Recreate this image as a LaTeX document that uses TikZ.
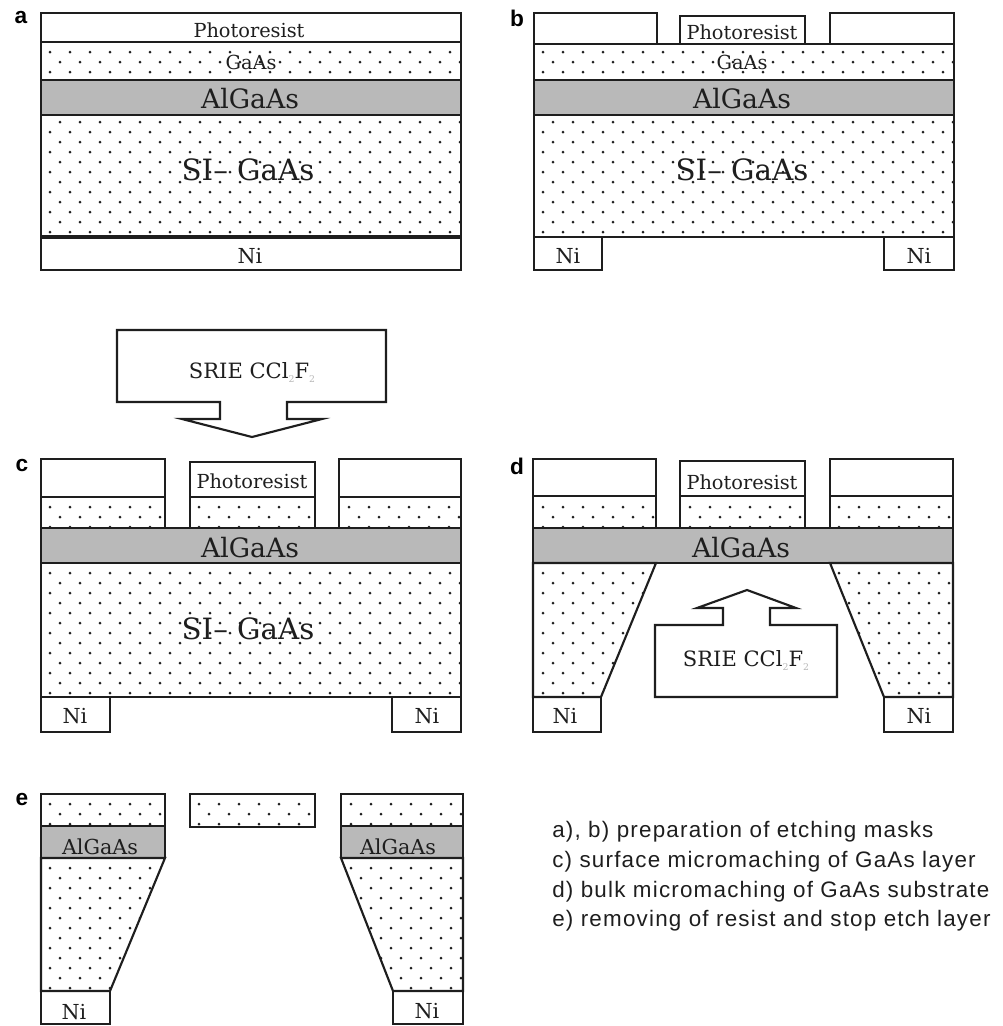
\documentclass[tikz,border=0pt]{standalone}
\usepackage{fontspec}
\setmainfont{DejaVu Serif}
\newfontfamily\legendfont[LetterSpace=5.4]{Liberation Sans}
\newfontfamily\tagfont{Liberation Sans}
\definecolor{algaas}{HTML}{B9B9B9}
\definecolor{edge}{HTML}{1E1E1E}
\tikzset{
  layer/.style={draw=edge, line width=1.6pt, line join=miter},
  stopetch/.style={layer, fill=algaas},
  etchgas/.style={layer, fill=white},
  txtsmall/.style={inner sep=0pt, text=edge, font=\fontsize{14.5}{15}\selectfont},
  txtmid/.style={inner sep=0pt, text=edge, font=\fontsize{15.5}{16}\selectfont},
  txtbig/.style={inner sep=0pt, text=edge, font=\fontsize{20}{20}\selectfont},
  txthuge/.style={inner sep=0pt, text=edge, font=\fontsize{22}{22}\selectfont},
  txtgas/.style={inner sep=0pt, text=edge, font=\fontsize{15.8}{16}\selectfont},
  panel/.style={inner sep=0pt, font=\tagfont\bfseries\fontsize{17}{17}\selectfont},
  legend/.style={inner sep=0pt, anchor=west, text=edge, font=\legendfont\fontsize{16.8}{17}\selectfont},
}
% dotted semiconductor: x origin, y origin, last row, last column, outline
\newcommand{\dotlayer}[5]{
  \begin{scope}
    \clip #5;
    \foreach \r in {0,...,#3} {
      \foreach \c in {0,...,#4} {
        \fill[edge] ({#1+20*\c+10*mod(\r,2)},{#2+10*\r}) circle (1.5);
      }
    }
  \end{scope}
  \draw[layer] #5;
}
\newcommand{\gassub}{\raisebox{-3pt}{\textcolor{gray!55}{\scriptsize 2}}}
\begin{document}
\begin{tikzpicture}[x=0.75pt, y=-0.75pt]
  \useasboundingbox (0,0) rectangle (1003,1026);

  % panel a
  \node[panel] (a_tag) at (21,18) {a};
  \draw[layer] (41,13) rectangle (461,42);
  \dotlayer{50}{52}{2}{20}{(41,42) rectangle (461,80)}
  \draw[stopetch] (41,80) rectangle (461,115);
  \dotlayer{50}{112}{12}{20}{(41,115) rectangle (461,237)}
  \draw[layer] (41,237) rectangle (461,270);
  \draw[edge, line width=2.4pt] (41,237) -- (461,237);
  \node[txtsmall] (a_resist) at (249,30) {Photoresist};
  \node[txtsmall] (a_gaas) at (251,62) {GaAs};
  \node[txtbig] (a_algaas) at (250,99) {AlGaAs};
  \node[txthuge] (a_si) at (248,170) {SI– GaAs};
  \node[txtmid] (a_ni) at (250,256) {Ni};

  % panel b
  \node[panel] (b_tag) at (517,18) {b};
  \draw[layer] (534,13) rectangle (657,44);
  \draw[layer] (680,16) rectangle (805,44);
  \draw[layer] (830,13) rectangle (954,44);
  \dotlayer{543}{52}{2}{20}{(534,44) rectangle (954,80)}
  \draw[stopetch] (534,80) rectangle (954,115);
  \dotlayer{543}{112}{12}{20}{(534,115) rectangle (954,237)}
  \draw[layer] (534,237) rectangle (602,270);
  \draw[layer] (884,237) rectangle (954,270);
  \node[txtsmall] (b_resist) at (742,32) {Photoresist};
  \node[txtsmall] (b_gaas) at (742,62) {GaAs};
  \node[txtbig] (b_algaas) at (742,99) {AlGaAs};
  \node[txthuge] (b_si) at (742,170) {SI– GaAs};
  \node[txtmid] (b_ni1) at (568,256) {Ni};
  \node[txtmid] (b_ni2) at (919,256) {Ni};

  % etch arrow going down
  \draw[etchgas] (117,330) -- (386,330) -- (386,402) -- (287,402) -- (287,419) -- (322,419)
    -- (252,437) -- (182,419) -- (220,419) -- (220,402) -- (117,402) -- cycle;
  \node[txtgas] (c_gas) at (252,372) {SRIE CCl\gassub F\gassub};

  % panel c
  \node[panel] (c_tag) at (22,466) {c};
  \draw[layer] (41,459) rectangle (165,497);
  \draw[layer] (190,462) rectangle (315,497);
  \draw[layer] (339,459) rectangle (461,497);
  \dotlayer{50}{507}{2}{6}{(41,497) rectangle (165,528)}
  \dotlayer{199}{507}{2}{6}{(190,497) rectangle (315,528)}
  \dotlayer{349}{507}{2}{6}{(339,497) rectangle (461,528)}
  \draw[stopetch] (41,528) rectangle (461,563);
  \dotlayer{50}{573}{12}{20}{(41,563) rectangle (461,697)}
  \draw[layer] (41,697) rectangle (110,732);
  \draw[layer] (392,697) rectangle (461,732);
  \node[txtsmall] (c_resist) at (252,481) {Photoresist};
  \node[txtbig] (c_algaas) at (250,548) {AlGaAs};
  \node[txthuge] (c_si) at (248,629) {SI– GaAs};
  \node[txtmid] (c_ni1) at (75,716) {Ni};
  \node[txtmid] (c_ni2) at (427,716) {Ni};

  % panel d
  \node[panel] (d_tag) at (517,466) {d};
  \draw[layer] (533,459) rectangle (656,496);
  \draw[layer] (680,461) rectangle (805,496);
  \draw[layer] (830,459) rectangle (953,496);
  \dotlayer{543}{507}{2}{6}{(533,496) rectangle (656,528)}
  \dotlayer{690}{507}{2}{6}{(680,496) rectangle (805,528)}
  \dotlayer{839}{507}{2}{6}{(830,496) rectangle (953,528)}
  \draw[stopetch] (533,528) rectangle (953,563);
  \dotlayer{543}{573}{12}{6}{(533,563) -- (656,563) -- (601,697) -- (533,697) -- cycle}
  \dotlayer{839}{573}{12}{6}{(830,563) -- (953,563) -- (953,697) -- (884,697) -- cycle}
  \draw[layer] (533,697) rectangle (601,732);
  \draw[layer] (884,697) rectangle (953,732);
  \draw[etchgas] (655,625) -- (723,625) -- (723,608) -- (697,608) -- (747,590) -- (796,608)
    -- (770,608) -- (770,625) -- (837,625) -- (837,697) -- (655,697) -- cycle;
  \node[txtsmall] (d_resist) at (742,482) {Photoresist};
  \node[txtbig] (d_algaas) at (741,548) {AlGaAs};
  \node[txtmid] (d_ni1) at (565,716) {Ni};
  \node[txtmid] (d_ni2) at (919,716) {Ni};
  \node[txtgas] (d_gas) at (746,660) {SRIE CCl\gassub F\gassub};

  % panel e
  \node[panel] (e_tag) at (22,800) {e};
  \dotlayer{50}{804}{2}{6}{(41,794) rectangle (165,826)}
  \dotlayer{199}{804}{2}{6}{(190,794) rectangle (315,827)}
  \dotlayer{351}{804}{2}{6}{(341,794) rectangle (463,826)}
  \draw[stopetch] (41,826) rectangle (165,858);
  \draw[stopetch] (341,826) rectangle (463,858);
  \dotlayer{50}{868}{12}{6}{(41,858) -- (165,858) -- (110,991) -- (41,991) -- cycle}
  \dotlayer{351}{868}{12}{6}{(341,858) -- (463,858) -- (463,991) -- (393,991) -- cycle}
  \draw[layer] (41,991) rectangle (110,1024);
  \draw[layer] (393,991) rectangle (463,1024);
  \node[txtmid] (e_algaas1) at (100,847) {AlGaAs};
  \node[txtmid] (e_algaas2) at (398,847) {AlGaAs};
  \node[txtmid] (e_ni1) at (74,1012) {Ni};
  \node[txtmid] (e_ni2) at (427,1011) {Ni};

  % legend
  \node[legend] (legend_ab) at (552,832) {a), b) preparation of etching masks};
  \node[legend] (legend_c) at (552,862) {c) surface micromaching of GaAs layer};
  \node[legend] (legend_d) at (552,892) {d) bulk micromaching of GaAs substrate};
  \node[legend] (legend_e) at (552,921) {e) removing of resist and stop etch layer};
\end{tikzpicture}
\end{document}
